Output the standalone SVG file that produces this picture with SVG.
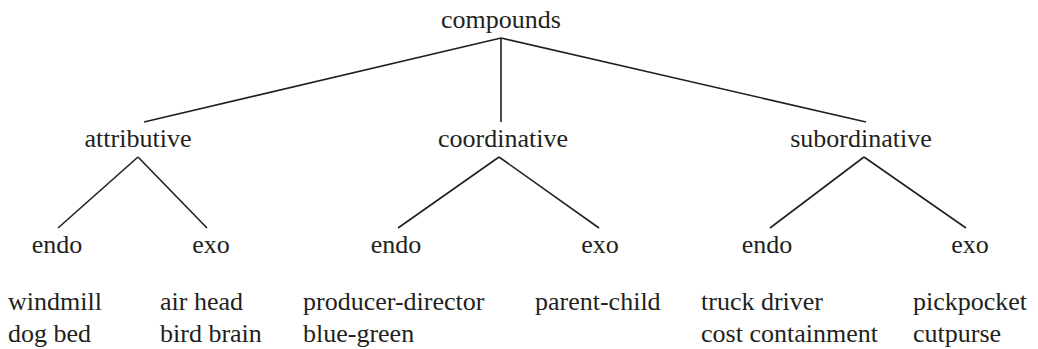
<svg xmlns="http://www.w3.org/2000/svg" width="1038" height="349" viewBox="0 0 1038 349">
<style>
text{font-size:26px;fill:#231f20}
.c{text-anchor:middle}
line{stroke:#231f20;stroke-width:1.6}
</style>
<rect width="1038" height="349" fill="#fff"/>
<g id="connectors">
<line x1="501" y1="38" x2="144" y2="122"/>
<line x1="501" y1="38" x2="501" y2="122"/>
<line x1="501" y1="38" x2="866" y2="122"/>
<line x1="138" y1="157" x2="58" y2="228"/>
<line x1="138" y1="157" x2="207" y2="228"/>
<line x1="499" y1="157" x2="398" y2="228"/>
<line x1="499" y1="157" x2="599" y2="228"/>
<line x1="864" y1="157" x2="770" y2="228"/>
<line x1="864" y1="157" x2="966" y2="228"/>
</g>
<g font-family="Liberation Serif, DejaVu Serif, serif">
<g id="compounds"><text class="c" x="501" y="28">compounds</text></g>
<g id="attributive"><text class="c" x="138" y="147">attributive</text></g>
<g id="coordinative"><text class="c" x="503" y="147">coordinative</text></g>
<g id="subordinative"><text class="c" x="861" y="147">subordinative</text></g>
<g id="attr-endo"><text class="c" x="57" y="253">endo</text><text x="8" y="310">windmill</text><text x="8" y="342">dog bed</text></g>
<g id="attr-exo"><text class="c" x="211" y="253">exo</text><text x="160" y="310">air head</text><text x="160" y="342">bird brain</text></g>
<g id="coord-endo"><text class="c" x="396" y="253">endo</text><text x="303" y="310">producer-director</text><text x="303" y="342">blue-green</text></g>
<g id="coord-exo"><text class="c" x="600" y="253">exo</text><text x="535" y="310">parent-child</text></g>
<g id="sub-endo"><text class="c" x="767" y="253">endo</text><text x="701" y="310">truck driver</text><text x="701" y="342">cost containment</text></g>
<g id="sub-exo"><text class="c" x="970" y="253">exo</text><text x="913" y="310">pickpocket</text><text x="913" y="342">cutpurse</text></g>
</g>
</svg>
